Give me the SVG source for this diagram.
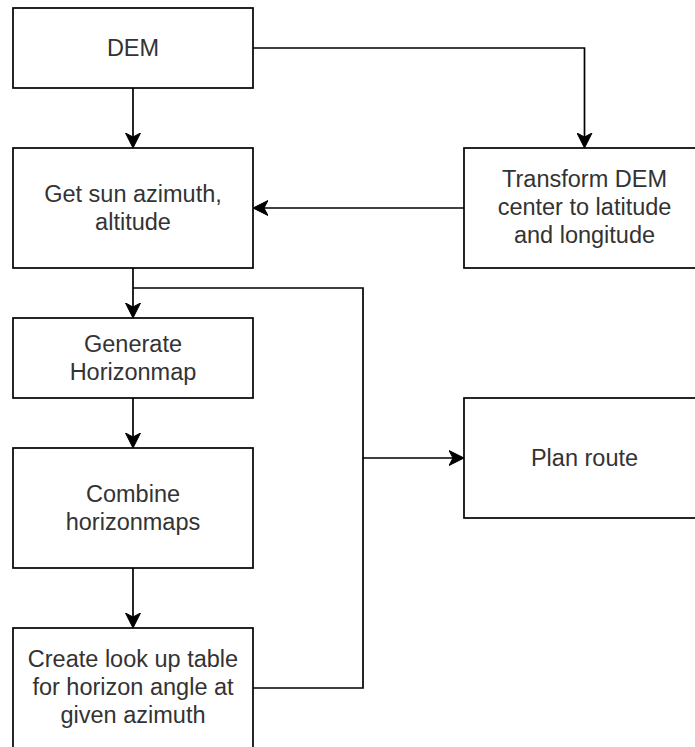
<svg xmlns="http://www.w3.org/2000/svg" width="695" height="747" viewBox="0 0 695 747">
<style>
.box{fill:#fff;stroke:#000;stroke-width:1.7}
.t{font-family:"Liberation Sans",Arial,Helvetica,sans-serif;font-size:23.5px;fill:#333;text-anchor:middle}
.c{fill:none;stroke:#000;stroke-width:1.7}
</style>
<defs>
<marker id="arr" markerUnits="userSpaceOnUse" markerWidth="16" markerHeight="16" viewBox="0 0 16 16" refX="4" refY="8" orient="auto">
<path d="M0,0.5 L15,8 L0,15.5 L4,8 Z" fill="#000" stroke="#000" stroke-width="1"/>
</marker>
</defs>
<rect width="695" height="747" fill="#fff"/>
<g id="connectors">
<path class="c" d="M133,88 V137" marker-end="url(#arr)"/>
<path class="c" d="M253,48 H584.5 V137" marker-end="url(#arr)"/>
<path class="c" d="M464,208 H264" marker-end="url(#arr)"/>
<path class="c" d="M133,268 V307" marker-end="url(#arr)"/>
<path class="c" d="M133,288 H363 V458 H453" marker-end="url(#arr)"/>
<path class="c" d="M133,398 V437" marker-end="url(#arr)"/>
<path class="c" d="M133,568 V617" marker-end="url(#arr)"/>
<path class="c" d="M253,688 H363 V458"/>
</g>
<g id="dem">
<rect class="box" x="13" y="8" width="240" height="80"/>
<text class="t" x="133" y="56">DEM</text>
</g>
<g id="sun">
<rect class="box" x="13" y="148" width="240" height="120"/>
<text class="t" x="133" y="202">Get sun azimuth,</text>
<text class="t" x="133" y="230">altitude</text>
</g>
<g id="transform">
<rect class="box" x="464" y="148" width="241" height="120"/>
<text class="t" x="584.5" y="187">Transform DEM</text>
<text class="t" x="584.5" y="215">center to latitude</text>
<text class="t" x="584.5" y="243">and longitude</text>
</g>
<g id="generate">
<rect class="box" x="13" y="318" width="240" height="80"/>
<text class="t" x="133" y="352">Generate</text>
<text class="t" x="133" y="380">Horizonmap</text>
</g>
<g id="combine">
<rect class="box" x="13" y="448" width="240" height="120"/>
<text class="t" x="133" y="502">Combine</text>
<text class="t" x="133" y="530">horizonmaps</text>
</g>
<g id="create">
<rect class="box" x="13" y="628" width="240" height="121"/>
<text class="t" x="133" y="667">Create look up table</text>
<text class="t" x="133" y="695">for horizon angle at</text>
<text class="t" x="133" y="723">given azimuth</text>
</g>
<g id="plan">
<rect class="box" x="464" y="398" width="241" height="120"/>
<text class="t" x="584.5" y="466">Plan route</text>
</g>
</svg>
